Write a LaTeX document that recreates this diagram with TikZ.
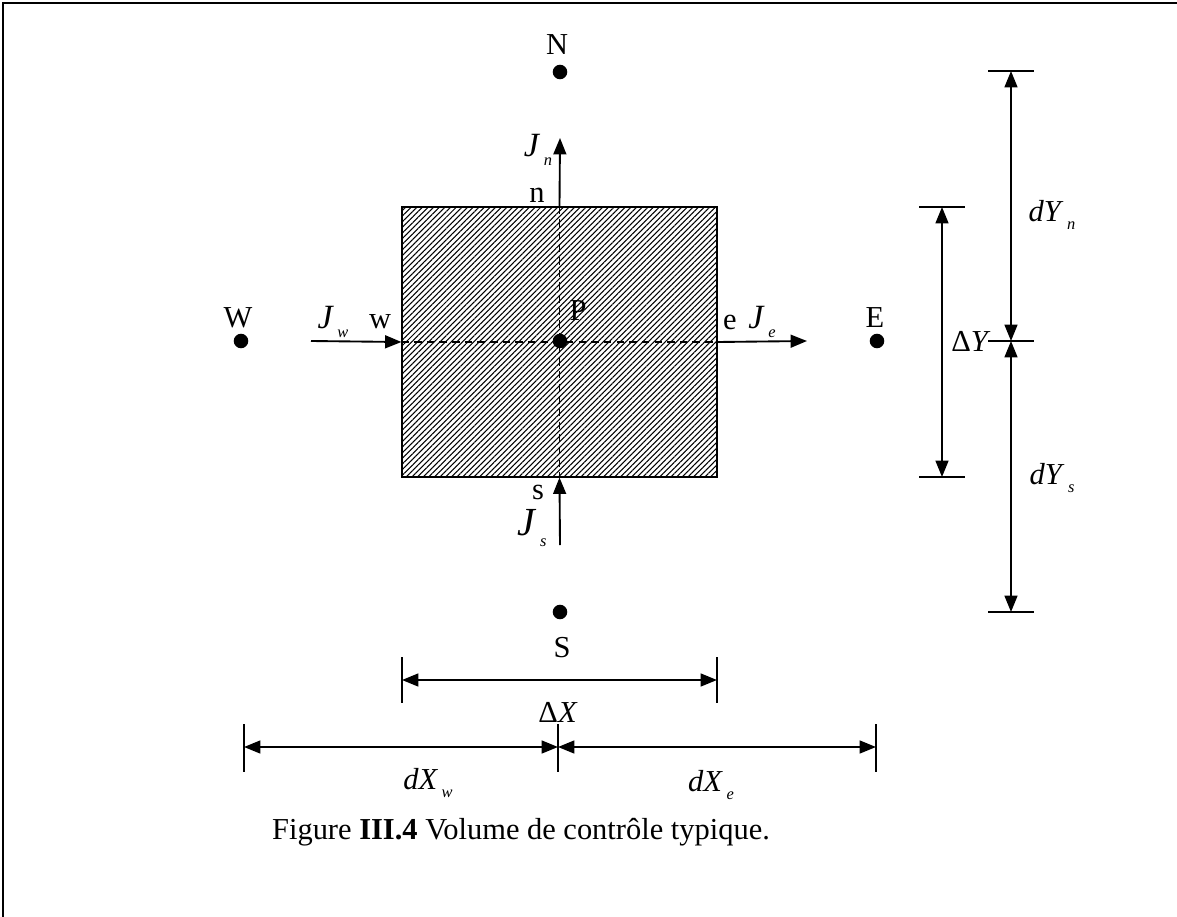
\documentclass[tikz,border=0pt]{standalone}
\usepackage{fontspec}
\setmainfont{Liberation Serif}
\usetikzlibrary{arrows.meta, positioning, calc, patterns.meta}
\newcommand{\sublab}[2]{\textit{#1}\kern1.5pt\raisebox{-0.6ex}{\scriptsize\textit{#2}}}
\tikzset{
  dot/.style={circle, fill=black, inner sep=0pt, minimum size=6.2pt},
  cvbox/.style={rectangle, draw=black, line width=0.8pt,
    pattern={Lines[angle=45, distance=1.7pt, line width=0.45pt]}},
  lbl/.style={inner sep=0pt, font=\fontsize{13}{15}\selectfont},
  fluxlbl/.style={inner sep=0pt, font=\fontsize{14.5}{17}\selectfont},
  flux/.style={-{Triangle[length=7pt, width=5.5pt]}, line width=0.8pt},
  dimarrow/.style={{Triangle[length=7pt, width=5.5pt]}-{Triangle[length=7pt, width=5.5pt]}, line width=0.8pt},
  tick/.style={line width=0.8pt}
}
\begin{document}
\begin{tikzpicture}[x=0.015cm, y=-0.015cm]
  \useasboundingbox (0,0) rectangle (1177,917);
  \draw[line width=0.9pt] (1177,3) -- (3,3) -- (3,917);

  % Control volume
  \node[cvbox, minimum width=4.725cm, minimum height=4.05cm] (cv) at (559.5,342) {};
  \draw[dashed, dash pattern=on 3.2pt off 2.2pt, line width=0.75pt] (cv.north) -- (cv.south);
  \draw[dashed, dash pattern=on 3.2pt off 2.2pt, line width=0.75pt] (cv.west) -- (cv.east);

  % Nodes
  \node[dot] (P) at (560,341) {};
  \node[dot] (N) at (560,72) {};
  \node[dot] (S) at (560,612) {};
  \node[dot] (W) at (241,341) {};
  \node[dot] (E) at (877,341) {};

  \node[lbl] (Plbl) at (578,311) {P};
  \node[lbl] (Nlbl) at (557,45) {N};
  \node[lbl] (Slbl) at (562,648) {S};
  \node[lbl] (Wlbl) at (238,318) {W};
  \node[lbl] (Elbl) at (875,318) {E};
  \node[lbl] (nlbl) at (537,195) {n};
  \node[lbl] (slbl) at (538,492) {s};
  \node[lbl] (wlbl) at (380,322) {w};
  \node[lbl] (elbl) at (730,322) {e};

  % Fluxes
  \coordinate (jw) at (311,341);
  \coordinate (je) at (807,341);
  \coordinate (jn) at (560,138);
  \coordinate (js) at (560,545);
  \draw[flux] (jw) -- (cv.west);
  \draw[flux] (cv.east) -- (je);
  \draw[flux] (cv.north) -- (jn);
  \draw[flux] (js) -- (cv.south);

  \node[fluxlbl] (Jw) at (333,322) {\sublab{J}{w}};
  \node[fluxlbl] (Je) at (762,322) {\sublab{J}{e}};
  \node[fluxlbl] (Jn) at (538,150) {\sublab{J}{n}};
  \node[fluxlbl, font=\fontsize{17}{19}\selectfont] (Js) at (532,528) {\sublab{J}{s}};

  % Dimensions along x
  \coordinate (xl) at (402,680);
  \coordinate (xr) at (717,680);
  \draw[tick] ($(xl)+(0,-23)$) -- ($(xl)+(0,23)$);
  \draw[tick] ($(xr)+(0,-23)$) -- ($(xr)+(0,23)$);
  \draw[dimarrow] (xl) -- (xr);
  \node[lbl] (DX) at (558,712) {Δ\textit{X}};

  \coordinate (xw) at (244,747);
  \coordinate (xp) at (558,747);
  \coordinate (xe) at (876,747);
  \foreach \c in {xw, xp, xe}
    \draw[tick] ($(\c)+(0,-23)$) -- ($(\c)+(0,25)$);
  \draw[dimarrow] (xw) -- (xp);
  \draw[dimarrow] (xp) -- (xe);
  \node[lbl] (dXw) at (428,783) {\sublab{dX}{w}};
  \node[lbl] (dXe) at (711,785) {\sublab{dX}{e}};

  % Dimensions along y
  \coordinate (yt) at (942,207);
  \coordinate (yb) at (942,477);
  \draw[tick] ($(yt)+(-23,0)$) -- ($(yt)+(23,0)$);
  \draw[tick] ($(yb)+(-23,0)$) -- ($(yb)+(23,0)$);
  \draw[dimarrow] (yt) -- (yb);
  \node[lbl] (DY) at (971,341) {Δ\textit{Y}};

  \coordinate (yn) at (1011,71);
  \coordinate (yp) at (1011,341);
  \coordinate (ys) at (1011,612);
  \foreach \c in {yn, yp, ys}
    \draw[tick] ($(\c)+(-23,0)$) -- ($(\c)+(23,0)$);
  \draw[dimarrow] (yn) -- (yp);
  \draw[dimarrow] (yp) -- (ys);
  \node[lbl] (dYn) at (1052,215) {\sublab{dY}{n}};
  \node[lbl] (dYs) at (1052,478) {\sublab{dY}{s}};

  % Caption
  \node[lbl] (cap) at (521,832) {Figure \textbf{III.4} Volume de contrôle typique.};
\end{tikzpicture}
\end{document}
